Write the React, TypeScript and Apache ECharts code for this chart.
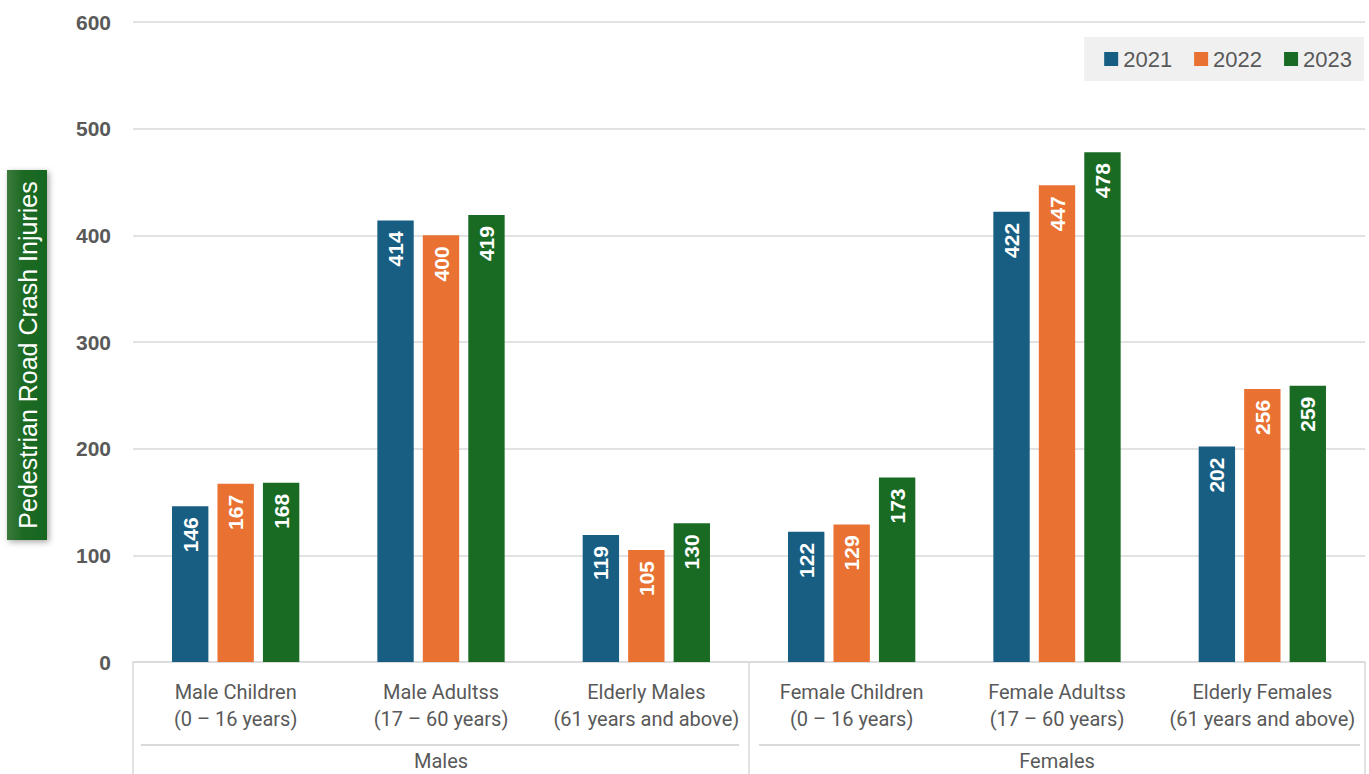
import React, { useEffect, useRef } from "react";
import * as echarts from "echarts";

const categories = [
  "Male Children\n(0 – 16 years)",
  "Male Adultss\n(17 – 60 years)",
  "Elderly Males\n(61 years and above)",
  "Female Children\n(0 – 16 years)",
  "Female Adultss\n(17 – 60 years)",
  "Elderly Females\n(61 years and above)",
];
const groups = ["Males", "Females"];
const seriesNames = ["2021", "2022", "2023"];
const values2021 = [146, 414, 119, 122, 422, 202];
const values2022 = [167, 400, 105, 129, 447, 256];
const values2023 = [168, 419, 130, 173, 478, 259];
const colors = ["#175E82", "#E97132", "#196B24"];
const yTitle = "Pedestrian Road Crash Injuries";

const W = 1369;
const H = 774;
const GL = 133;
const GR = 4;
const GT = 22;
const GB = 112;

export default function App() {
  const ref = useRef<HTMLDivElement>(null);
  useEffect(() => {
    document.body.style.margin = "0";
    const chart = echarts.init(ref.current!, null, { renderer: "svg" });
    const data = [values2021, values2022, values2023];
    const plotW = W - GL - GR;
    const mid = GL + plotW / 2;
    const lineY = H - GB + 83;
    chart.setOption({
      animation: false,
      backgroundColor: "#ffffff",
      textStyle: { fontFamily: "Roboto, 'Liberation Sans', sans-serif" },
      grid: { left: GL, right: GR, top: GT, bottom: GB, containLabel: false },
      legend: {
        data: seriesNames,
        right: 5,
        top: 37,
        backgroundColor: "#f0f0f0",
        padding: [11, 12, 11, 20],
        itemWidth: 14,
        itemHeight: 14,
        itemGap: 22,
        icon: "rect",
        textStyle: { color: "#595959", fontSize: 22, fontFamily: "'Liberation Sans', Arial, sans-serif", padding: [0, 0, 0, 0] },
      },
      xAxis: [
        {
          type: "category",
          data: categories,
          position: "bottom",
          axisLine: { show: true, lineStyle: { color: "#d9d9d9", width: 1.5 } },
          axisTick: { show: false },
          axisLabel: {
            color: "#595959",
            fontSize: 20,
            lineHeight: 27,
            margin: 16,
            interval: 0,
            fontFamily: "Roboto, sans-serif",
          },
        },
        {
          type: "category",
          data: groups,
          position: "bottom",
          axisLine: { show: false },
          axisTick: { show: true, length: GB, lineStyle: { color: "#d9d9d9", width: 1.5 } },
          axisLabel: {
            color: "#595959",
            fontSize: 20,
            margin: 89,
            fontFamily: "Roboto, sans-serif",
          },
          splitLine: { show: false },
        },
      ],
      yAxis: {
        type: "value",
        min: 0,
        max: 600,
        interval: 100,
        axisLine: { show: false },
        axisTick: { show: false },
        axisLabel: {
          color: "#595959",
          fontSize: 21,
          fontWeight: "bold",
          margin: 22,
          fontFamily: "'Liberation Sans', Arial, sans-serif",
        },
        splitLine: { lineStyle: { color: "#d9d9d9", width: 1.5 } },
      },
      series: seriesNames.map((name, i) => ({
        name,
        type: "bar",
        xAxisIndex: 0,
        data: data[i],
        barGap: "25%",
        barCategoryGap: "38%",
        itemStyle: { color: colors[i] },
        label: {
          show: true,
          position: "insideTop",
          rotate: 90,
          align: "right",
          verticalAlign: "middle",
          distance: 11,
          color: "#ffffff",
          fontSize: 21,
          fontWeight: "bold",
          fontFamily: "'Liberation Sans', Arial, sans-serif",
        },
      })),
      graphic: [
        {
          type: "line",
          shape: { x1: GL + 8, y1: lineY, x2: mid - 10, y2: lineY },
          style: { stroke: "#d9d9d9", lineWidth: 2 },
        },
        {
          type: "line",
          shape: { x1: mid + 10, y1: lineY, x2: W - GR - 5, y2: lineY },
          style: { stroke: "#d9d9d9", lineWidth: 2 },
        },
        {
          type: "group",
          left: 7,
          top: 170,
          children: [
            {
              type: "rect",
              shape: { x: 0, y: 0, width: 40, height: 370 },
              style: {
                fill: new echarts.graphic.LinearGradient(0, 0, 1, 0, [
                  { offset: 0, color: "#3c7a3c" },
                  { offset: 0.4, color: "#1c6a24" },
                  { offset: 1, color: "#17661f" },
                ]),
                shadowBlur: 6,
                shadowOffsetX: 2,
                shadowOffsetY: 2,
                shadowColor: "rgba(0,0,0,0.35)",
              },
            },
            {
              type: "text",
              x: 21,
              y: 185,
              rotation: Math.PI / 2,
              style: {
                text: yTitle,
                fill: "#ffffff",
                fontSize: 25,
                fontFamily: "'Liberation Sans', Arial, sans-serif",
                align: "center",
                verticalAlign: "middle",
              },
            },
          ],
        },
      ],
    });
    return () => chart.dispose();
  }, []);
  return <div ref={ref} style={{ width: W, height: H }} />;
}
